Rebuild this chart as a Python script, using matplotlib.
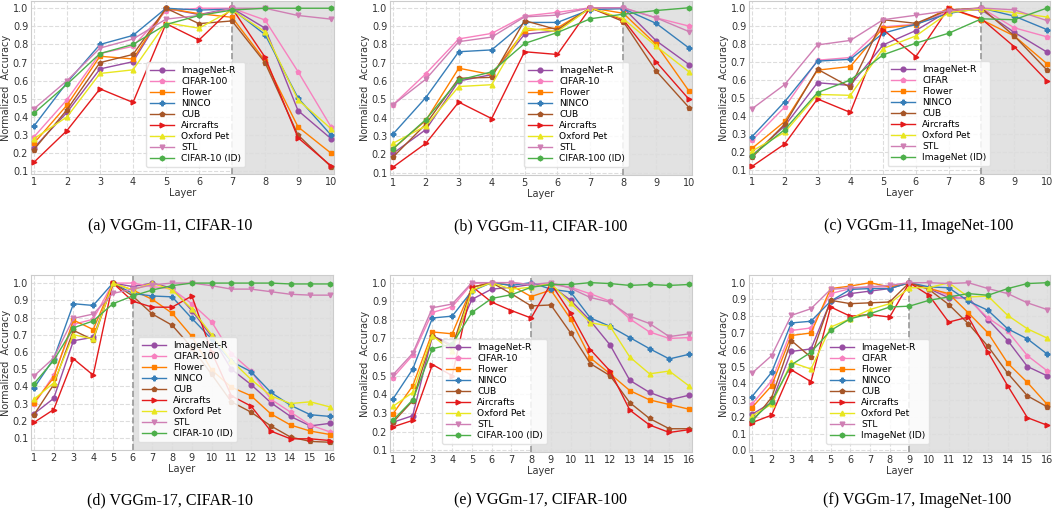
import matplotlib
matplotlib.use("Agg")
import matplotlib.pyplot as plt

# ---- data: normalized accuracy per layer ----
names = ["ImageNet-R", "CIFAR", "Flower", "NINCO", "CUB", "Aircrafts", "Oxford Pet", "STL", "ID"]

# (a) VGGm-11, CIFAR-10
a_imagenet_r = [0.23, 0.425, 0.665, 0.705, 1.0, 0.965, 1.0, 0.89, 0.435, 0.28]
a_cifar = [0.29, 0.495, 0.75, 0.79, 0.985, 1.0, 1.0, 0.935, 0.65, 0.345]
a_flower = [0.255, 0.465, 0.735, 0.72, 1.0, 0.97, 0.95, 0.71, 0.345, 0.2]
a_ninco = [0.35, 0.59, 0.80, 0.85, 1.0, 0.99, 0.995, 0.855, 0.505, 0.30]
a_cub = [0.22, 0.44, 0.70, 0.745, 1.0, 0.915, 0.93, 0.70, 0.30, 0.125]
a_aircrafts = [0.15, 0.325, 0.555, 0.48, 0.915, 0.825, 1.0, 0.73, 0.285, 0.13]
a_pet = [0.28, 0.40, 0.64, 0.66, 0.92, 0.89, 0.99, 0.87, 0.495, 0.335]
a_stl = [0.445, 0.60, 0.78, 0.83, 0.94, 0.96, 1.0, 1.0, 0.96, 0.94]
a_id = [0.42, 0.58, 0.75, 0.80, 0.91, 0.96, 0.99, 1.0, 1.0, 1.0]

# (b) VGGm-11, CIFAR-100
b_imagenet_r = [0.205, 0.335, 0.60, 0.635, 0.855, 0.875, 1.0, 1.0, 0.82, 0.69]
b_cifar = [0.47, 0.64, 0.83, 0.86, 0.955, 0.975, 1.0, 1.0, 0.945, 0.90]
b_flower = [0.23, 0.385, 0.67, 0.635, 0.875, 0.89, 1.0, 0.97, 0.80, 0.545]
b_ninco = [0.31, 0.51, 0.76, 0.77, 0.92, 0.92, 0.99, 0.995, 0.915, 0.78]
b_cub = [0.185, 0.365, 0.615, 0.62, 0.93, 0.88, 1.0, 0.925, 0.655, 0.455]
b_aircrafts = [0.13, 0.26, 0.485, 0.395, 0.76, 0.745, 1.0, 0.935, 0.705, 0.50]
b_pet = [0.26, 0.355, 0.57, 0.58, 0.89, 0.87, 1.0, 0.94, 0.79, 0.65]
b_stl = [0.47, 0.61, 0.815, 0.84, 0.95, 0.96, 1.0, 1.0, 0.945, 0.87]
b_id = [0.23, 0.39, 0.605, 0.65, 0.805, 0.865, 0.94, 0.965, 0.985, 1.0]

# (c) VGGm-11, ImageNet-100
c_imagenet_r = [0.18, 0.345, 0.585, 0.57, 0.795, 0.875, 0.985, 0.99, 0.865, 0.755]
c_cifar = [0.265, 0.45, 0.71, 0.725, 0.895, 0.91, 0.98, 1.0, 0.89, 0.84]
c_flower = [0.22, 0.37, 0.655, 0.675, 0.89, 0.905, 1.0, 0.935, 0.845, 0.69]
c_ninco = [0.285, 0.48, 0.705, 0.715, 0.86, 0.91, 0.97, 1.0, 0.955, 0.88]
c_cub = [0.17, 0.355, 0.66, 0.56, 0.935, 0.915, 0.99, 1.0, 0.845, 0.655]
c_aircrafts = [0.12, 0.245, 0.495, 0.42, 0.88, 0.73, 1.0, 0.94, 0.785, 0.595]
c_pet = [0.205, 0.31, 0.52, 0.515, 0.775, 0.845, 0.975, 0.995, 0.975, 0.95]
c_stl = [0.44, 0.575, 0.795, 0.82, 0.935, 0.96, 0.985, 1.0, 0.99, 0.93]
c_id = [0.18, 0.325, 0.53, 0.60, 0.74, 0.805, 0.86, 0.94, 0.935, 1.0]

# (d) VGGm-17, CIFAR-10
d_imagenet_r = [0.24, 0.33, 0.665, 0.685, 1.0, 0.98, 1.0, 0.97, 0.84, 0.69, 0.50, 0.41, 0.305, 0.225, 0.17, 0.185]
d_cifar = [0.295, 0.465, 0.76, 0.79, 1.0, 1.0, 0.98, 0.965, 0.88, 0.775, 0.59, 0.49, 0.325, 0.25, 0.175, 0.135]
d_flower = [0.305, 0.45, 0.785, 0.73, 1.0, 0.96, 0.905, 0.825, 0.69, 0.495, 0.395, 0.345, 0.24, 0.175, 0.14, 0.12]
d_ninco = [0.39, 0.56, 0.88, 0.87, 1.0, 0.94, 0.925, 0.92, 0.795, 0.675, 0.545, 0.485, 0.365, 0.29, 0.235, 0.225]
d_cub = [0.235, 0.41, 0.725, 0.67, 1.0, 0.925, 0.82, 0.755, 0.625, 0.47, 0.31, 0.25, 0.17, 0.105, 0.08, 0.075]
d_aircrafts = [0.19, 0.265, 0.56, 0.465, 1.0, 0.895, 0.86, 0.86, 0.925, 0.60, 0.345, 0.285, 0.14, 0.095, 0.095, 0.085]
d_pet = [0.325, 0.42, 0.70, 0.675, 1.0, 0.96, 1.0, 0.96, 0.85, 0.70, 0.55, 0.44, 0.345, 0.30, 0.31, 0.28]
d_stl = [0.46, 0.565, 0.795, 0.82, 0.94, 0.965, 0.99, 1.0, 1.0, 0.985, 0.965, 0.965, 0.95, 0.935, 0.93, 0.93]
d_id = [0.415, 0.55, 0.74, 0.78, 0.88, 0.925, 0.96, 0.985, 1.0, 1.0, 1.0, 1.0, 1.0, 0.995, 0.995, 0.995]

# (e) VGGm-17, CIFAR-100
e_imagenet_r = [0.25, 0.285, 0.715, 0.665, 0.91, 0.965, 0.975, 0.99, 0.985, 0.905, 0.795, 0.665, 0.475, 0.41, 0.37, 0.395]
e_cifar = [0.49, 0.61, 0.84, 0.87, 0.995, 1.0, 1.0, 0.99, 0.99, 0.975, 0.94, 0.90, 0.805, 0.735, 0.70, 0.705]
e_flower = [0.295, 0.445, 0.735, 0.725, 0.975, 1.0, 0.985, 0.925, 0.96, 0.805, 0.595, 0.51, 0.42, 0.37, 0.345, 0.32]
e_ninco = [0.375, 0.535, 0.81, 0.82, 0.955, 1.0, 0.985, 1.0, 0.965, 0.95, 0.81, 0.765, 0.705, 0.645, 0.59, 0.615]
e_cub = [0.25, 0.365, 0.715, 0.655, 0.975, 1.0, 0.94, 0.875, 0.88, 0.73, 0.565, 0.50, 0.355, 0.27, 0.215, 0.215]
e_aircrafts = [0.225, 0.26, 0.56, 0.50, 0.98, 0.895, 0.85, 0.81, 0.995, 0.835, 0.64, 0.525, 0.315, 0.235, 0.195, 0.21]
e_pet = [0.335, 0.41, 0.715, 0.63, 0.96, 1.0, 0.965, 0.975, 0.995, 0.89, 0.785, 0.765, 0.60, 0.51, 0.525, 0.445]
e_stl = [0.505, 0.62, 0.865, 0.885, 1.0, 1.0, 1.0, 0.99, 1.0, 0.97, 0.92, 0.895, 0.82, 0.78, 0.71, 0.725]
e_id = [0.26, 0.37, 0.645, 0.67, 0.84, 0.915, 0.935, 0.975, 0.99, 0.99, 1.0, 0.995, 0.985, 0.99, 0.985, 0.99]

# (f) VGGm-17, ImageNet-100
f_imagenet_r = [0.215, 0.285, 0.59, 0.605, 0.89, 0.935, 0.95, 0.965, 1.0, 0.965, 0.91, 0.91, 0.78, 0.655, 0.50, 0.445]
f_cifar = [0.275, 0.415, 0.715, 0.73, 0.935, 0.965, 0.975, 0.975, 1.0, 0.97, 0.925, 0.90, 0.79, 0.71, 0.565, 0.475]
f_flower = [0.255, 0.385, 0.685, 0.70, 0.965, 0.98, 1.0, 0.975, 0.995, 0.965, 0.935, 0.82, 0.70, 0.52, 0.405, 0.275]
f_ninco = [0.32, 0.465, 0.76, 0.77, 0.89, 0.96, 0.965, 0.965, 1.0, 0.975, 0.97, 0.89, 0.835, 0.725, 0.665, 0.575]
f_cub = [0.17, 0.315, 0.655, 0.555, 0.895, 0.875, 0.88, 0.885, 1.0, 0.96, 0.87, 0.755, 0.62, 0.46, 0.325, 0.26]
f_aircrafts = [0.165, 0.21, 0.48, 0.41, 0.855, 0.80, 0.81, 0.795, 1.0, 0.925, 0.765, 0.795, 0.585, 0.385, 0.195, 0.15]
f_pet = [0.205, 0.275, 0.525, 0.485, 0.735, 0.785, 0.84, 0.875, 0.97, 0.97, 1.0, 0.915, 0.92, 0.805, 0.725, 0.67]
f_stl = [0.46, 0.565, 0.805, 0.845, 0.96, 0.97, 0.975, 0.985, 1.0, 1.0, 0.995, 1.0, 0.965, 0.935, 0.88, 0.84]
f_id = [0.18, 0.29, 0.51, 0.585, 0.715, 0.785, 0.815, 0.855, 0.86, 0.895, 0.915, 0.935, 0.925, 0.965, 0.995, 1.0]

captions = ["(a) VGGm-11, CIFAR-10", "(b) VGGm-11, CIFAR-100", "(c) VGGm-11, ImageNet-100",
            "(d) VGGm-17, CIFAR-10", "(e) VGGm-17, CIFAR-100", "(f) VGGm-17, ImageNet-100"]
cifar_labels = ["CIFAR-100", "CIFAR-10", "CIFAR", "CIFAR-100", "CIFAR-10", "CIFAR"]
id_labels = ["CIFAR-10 (ID)", "CIFAR-100 (ID)", "ImageNet (ID)", "CIFAR-10 (ID)", "CIFAR-100 (ID)", "ImageNet (ID)"]
split_layer = [7, 8, 8, 6, 8, 9]

panels = [
    [a_imagenet_r, a_cifar, a_flower, a_ninco, a_cub, a_aircrafts, a_pet, a_stl, a_id],
    [b_imagenet_r, b_cifar, b_flower, b_ninco, b_cub, b_aircrafts, b_pet, b_stl, b_id],
    [c_imagenet_r, c_cifar, c_flower, c_ninco, c_cub, c_aircrafts, c_pet, c_stl, c_id],
    [d_imagenet_r, d_cifar, d_flower, d_ninco, d_cub, d_aircrafts, d_pet, d_stl, d_id],
    [e_imagenet_r, e_cifar, e_flower, e_ninco, e_cub, e_aircrafts, e_pet, e_stl, e_id],
    [f_imagenet_r, f_cifar, f_flower, f_ninco, f_cub, f_aircrafts, f_pet, f_stl, f_id],
]

colors = ["#984ea3", "#f781bf", "#ff7f00", "#377eb8", "#a65628", "#e41a1c", "#e8e620", "#cf7fb4", "#4daf4a"]
markers = ["o", "p", "s", "P", "p", ">", "^", "v", "h"]

W, H = 1053, 518
ax_boxes = [
    (31, 1, 303, 173), (390, 1, 302, 174), (749, 1, 301, 173),
    (31, 275, 302, 175), (390, 275, 302, 177), (749, 275, 301, 177),
]
ylims = [(0.085, 1.04), (0.087, 1.037), (0.078, 1.039), (0.03, 1.047), (0.09, 1.041), (-0.01, 1.046)]
legend_anchor = [(0.365, 0.015), (0.43, 0.02), (0.445, 0.02), (0.34, 0.02), (0.158, 0.02), (0.242, 0.02)]
caption_pos = [(170, 226), (541, 226), (919, 226), (170, 500), (541, 500), (917, 500)]

plt.rcParams["font.family"] = "DejaVu Sans"
fig = plt.figure(figsize=(W / 100, H / 100), dpi=100)

for k in range(6):
    x0, y0, w, h = ax_boxes[k]
    ax = fig.add_axes([x0 / W, 1 - (y0 + h) / H, w / W, h / H])
    series = panels[k]
    n = len(series[0])
    layers = list(range(1, n + 1))
    xmin, xmax = (0.91, 10.09) if n == 10 else (0.85, 16.15)

    ax.axvspan(split_layer[k], xmax, color="#e2e2e2", zorder=0, lw=0)
    ax.axvline(split_layer[k], color="#999999", ls="--", lw=1.2, zorder=1)

    labels = list(names)
    labels[1] = cifar_labels[k]
    labels[8] = id_labels[k]
    for vals, lab, col, mk in zip(series, labels, colors, markers):
        ax.plot(layers, vals, color=col, marker=mk, markersize=3.4, lw=1.0, label=lab, zorder=3)

    ax.set_xlim(xmin, xmax)
    ax.set_ylim(*ylims[k])
    ax.set_xticks(layers)
    lo = 0.0 if k == 5 else 0.1
    yt = [round(lo + 0.1 * i, 1) for i in range(int(round((1.0 - lo) / 0.1)) + 1)]
    ax.set_yticks(yt)
    ax.grid(True, ls="--", color="#dddddd", lw=0.8, zorder=0)
    ax.set_axisbelow(True)
    ax.tick_params(length=0, labelsize=7, colors="#333333", pad=2)
    for s in ax.spines.values():
        s.set_color("#cccccc")
    ax.set_xlabel("Layer", fontsize=7, color="#333333", labelpad=1)
    ax.set_ylabel("Normalized  Accuracy", fontsize=7, color="#333333", labelpad=1)
    ax.legend(loc="lower left", bbox_to_anchor=legend_anchor[k], fontsize=6.6,
              labelspacing=0.22, handlelength=2.6, borderpad=0.4, framealpha=0.85,
              edgecolor="#dddddd", fancybox=True)

    cx, cy = caption_pos[k]
    fig.text(cx / W, 1 - cy / H, captions[k], ha="center", va="center",
             fontsize=11.5, family="Liberation Serif")

fig.savefig("out.png", dpi=100)
